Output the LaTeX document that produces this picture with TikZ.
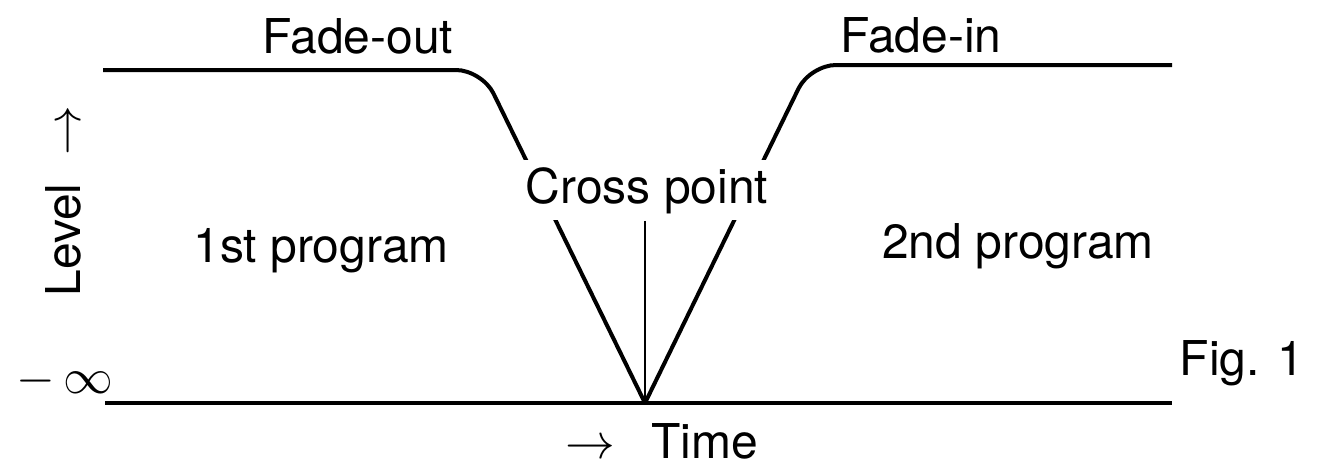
\documentclass[tikz,border=0pt]{standalone}
\usepackage{fontspec}
\setmainfont{TeX Gyre Heros}
\begin{document}
\begin{tikzpicture}[x=0.5pt,y=-0.5pt,
    lbl/.style={inner sep=0pt,font=\fontsize{24}{28}\selectfont},
    curve/.style={line width=2pt,rounded corners=13pt},
    axis/.style={line width=2pt}]
    \useasboundingbox (0,0) rectangle (1338,467);

    \coordinate (O) at (105,403);
    \coordinate (E) at (1172,403);
    \coordinate (X) at (645,403);
    \coordinate (L0) at (103,70);
    \coordinate (L1) at (482,70);
    \coordinate (R1) at (810,65);
    \coordinate (R0) at (1172,65);

    % Zeitachse
    \draw[axis] (O) -- (E);

    % Pegelverlauf beider Programme
    \draw[curve] (L0) -- (L1) -- (X);
    \draw[curve] (R0) -- (R1) -- (X);

    % Kreuzungspunkt
    \node[lbl,fill=white,inner sep=3.5pt,anchor=base] (cp) at (647,203) {Cross point};
    \draw[line width=1.2pt] (cp.south -| X) -- (X);

    % Beschriftungen
    \node[lbl,anchor=base] (fout) at (358,53) {Fade-out};
    \node[lbl,anchor=base] (fin) at (921,52) {Fade-in};
    \node[lbl,anchor=base] (prog1) at (321,262) {1st program};
    \node[lbl,anchor=base] (prog2) at (1018,258) {2nd program};
    \node[lbl,anchor=base] (fig) at (1242,375) {Fig. 1};
    \node[lbl,anchor=base west] (time) at (565,458) {$\rightarrow$\hspace{18pt}Time};
    \node[lbl,rotate=90,anchor=base west] (level) at (80,297) {Level\hspace{14pt}$\rightarrow$};
    \node[lbl] (minf) at (65,381) {$-\,\infty$};
\end{tikzpicture}
\end{document}
